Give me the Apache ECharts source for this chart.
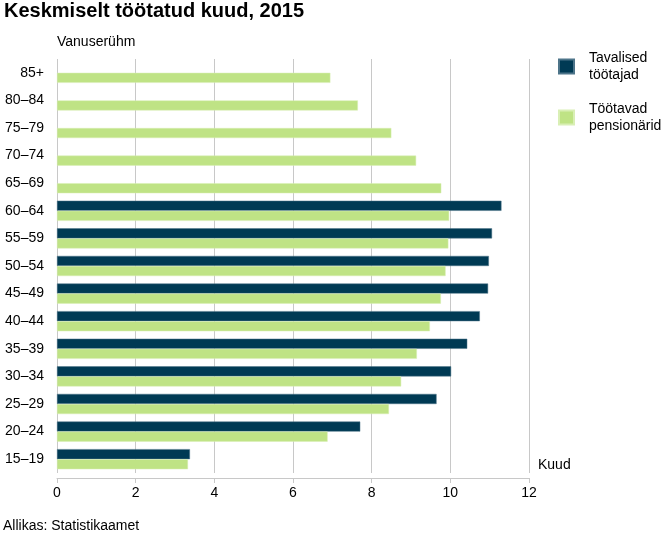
<!DOCTYPE html>
<html>
<head>
<meta charset="utf-8">
<script src="https://cdn.jsdelivr.net/npm/echarts@6/dist/echarts.min.js"></script>
<style>
html,body{margin:0;padding:0;background:#fff;}
#chart{width:663px;height:539px;}
</style>
</head>
<body>
<div id="chart"></div>
<script>
const categories = ['85+','80–84','75–79','70–74','65–69','60–64','55–59','50–54','45–49','40–44','35–39','30–34','25–29','20–24','15–19'];
const tavalised = [null,null,null,null,null,11.30,11.06,10.98,10.96,10.75,10.43,10.02,9.65,7.71,3.38];
const pensionarid = [6.95,7.65,8.50,9.13,9.77,9.97,9.95,9.88,9.76,9.48,9.15,8.75,8.44,6.88,3.33];
const xTicks = {min:0, max:12, interval:2};

const FONT = '"Liberation Sans", Arial, sans-serif';
const chart = echarts.init(document.getElementById('chart'), null, {renderer:'canvas'});
chart.setOption({
  animation:false,
  textStyle:{fontFamily:FONT},
  title:{
    text:'Keskmiselt töötatud kuud, 2015',
    left:4, top:1, padding:0,
    textStyle:{fontFamily:FONT, fontSize:20, fontWeight:'bold', color:'#000'}
  },
  legend:{
    orient:'vertical', left:558, top:41, itemGap:0, padding:0,
    itemWidth:15, itemHeight:14, icon:'rect',
    textStyle:{fontFamily:FONT, fontSize:14, color:'#000', lineHeight:17, padding:[17,0,0,10]},
    data:['Tavalised\ntöötajad','Töötavad\npensionärid']
  },
  grid:{left:57, right:134, top:59, bottom:66, containLabel:false},
  xAxis:{
    type:'value', min:xTicks.min, max:xTicks.max, interval:xTicks.interval,
    position:'bottom', offset:5,
    name:'Kuud', nameLocation:'end', nameGap:9,
    nameTextStyle:{fontFamily:FONT, fontSize:14, color:'#000', verticalAlign:'bottom', padding:[0,0,6,0]},
    axisLine:{show:true, lineStyle:{color:'#c8c8c8', width:1}},
    axisTick:{show:true, length:5, lineStyle:{color:'#c8c8c8'}},
    axisLabel:{fontFamily:FONT, fontSize:14, color:'#000', margin:8},
    splitLine:{show:true, lineStyle:{color:'#c8c8c8', width:1}}
  },
  yAxis:{
    type:'category', data:categories, inverse:true,
    axisLine:{show:false}, axisTick:{show:false},
    axisLabel:{fontFamily:FONT, fontSize:14, color:'#000', margin:13}
  },
  graphic:[
    {type:'text', left:57, top:35, style:{text:'Vanuserühm', font:'14px '+FONT, fill:'#000'}},
    {type:'text', left:3, top:519, style:{text:'Allikas: Statistikaamet', font:'14px '+FONT, fill:'#000'}}
  ],
  series:[
    {name:'Tavalised\ntöötajad', type:'bar', data:tavalised, barGap:'0%', barCategoryGap:'27%',
     itemStyle:{color:'#003a54', borderColor:'#4d7489', borderWidth:0.5}},
    {name:'Töötavad\npensionärid', type:'bar', data:pensionarid, barGap:'0%', barCategoryGap:'27%',
     itemStyle:{color:'#bfe385', borderColor:'#d9efb5', borderWidth:0.5}}
  ]
});
</script>
</body>
</html>
